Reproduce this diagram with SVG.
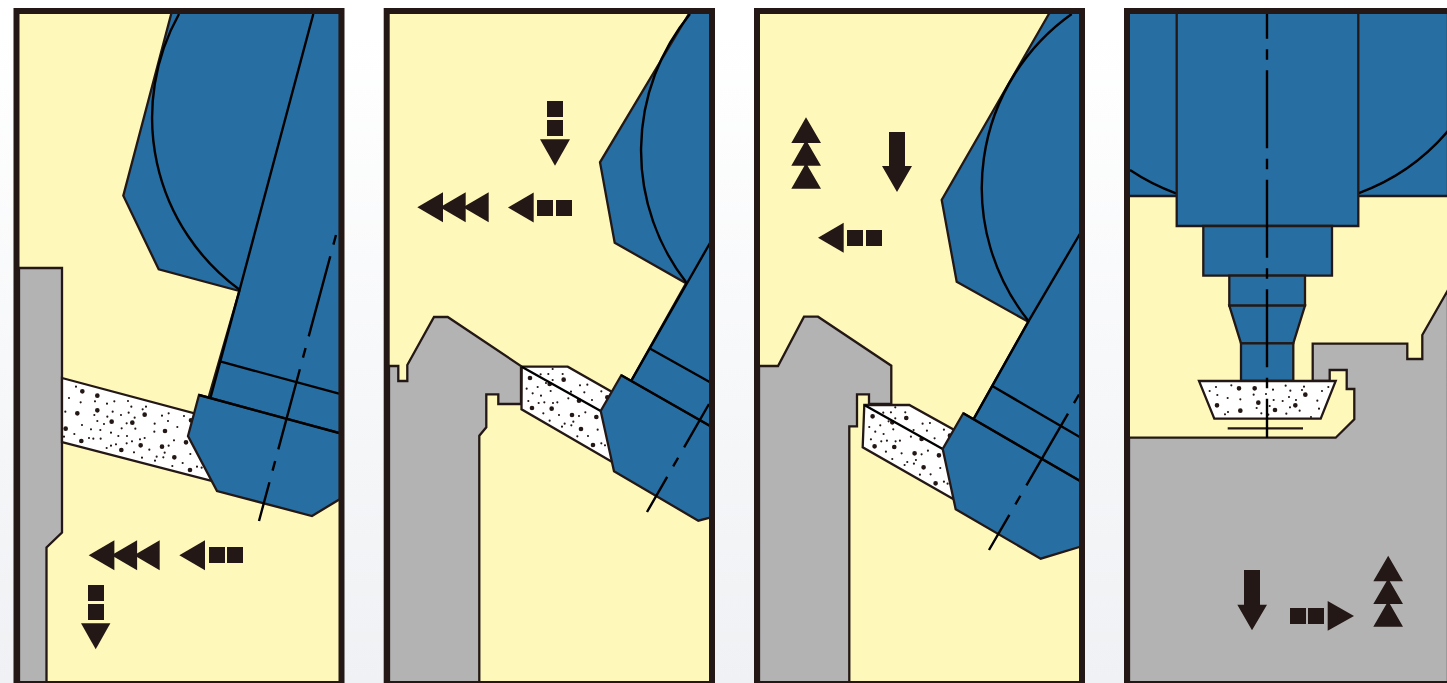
<svg xmlns="http://www.w3.org/2000/svg" width="1447" height="683" viewBox="0 0 1447 683">
<style>
.y{fill:#fff8bb}
.g{fill:#b3b3b3;stroke:#231815;stroke-width:2.3}
.b{fill:#276ea3;stroke:#231815;stroke-width:2.3}
.w{fill:#fff;stroke:#231815;stroke-width:2.3}
.l{fill:none;stroke:#000;stroke-width:2.4}
.o{fill:none;stroke:#231815;stroke-width:2.3}
.f{fill:none;stroke:#231815;stroke-width:6}
.k{fill:#231815}
.d{fill:none;stroke:#231815;stroke-linecap:round}
.big{stroke-width:14}
.sm{stroke-width:6.5}
</style>
<defs>
<linearGradient id="bg" x1="0" y1="0" x2="0" y2="1"><stop offset="0.05" stop-color="#fff"/><stop offset="1" stop-color="#eff1f4"/></linearGradient>
<path id="tri" class="k" d="M0 0L25.7-15V15Z"/>
<rect id="sq" class="k" x="0" y="0" width="16" height="16"/>
<g id="dots2" transform="translate(380 280) scale(.33333)">
<path class="d big" d="M450 294h0M509 312h0M551 299h0M597 362h0M682 352h0M456 384h0M515 386h0M576 405h0M649 411h0M603 447h0M639 495h0"/>
<path class="d sm" d="M482 283h0M518 267h0M505 282h0M548 282h0M518 300h0M600 316h0M622 314h0M573 335h0M613 337h0M664 334h0M440 326h0M473 321h0M498 309h0M458 340h0M483 347h0M512 333h0M565 355h0M636 360h0M445 363h0M476 369h0M493 367h0M519 369h0M532 367h0M490 400h0M537 405h0M597 408h0M616 397h0M509 422h0M580 425h0M554 431h0M574 436h0M546 440h0M653 449h0M592 469h0M624 468h0M664 490h0M675 496h0"/>
</g>
</defs>
<rect width="1447" height="683" fill="url(#bg)"/>

<g id="panel-1">
<rect class="y" x="16" y="11" width="325" height="672"/>
<path class="g" d="M19 268H62V532.5L46.5 547.5V684H19Z"/>
<path class="w" d="M62 378L205 416.2L225 484.4L62 442Z"/>
<g transform="translate(0 340) scale(.33333)">
<path class="d big" d="M247 154h0M292 167h0M232 220h0M292 211h0M335 245h0M397 248h0M434 224h0M197 266h0M244 303h0M364 330h0M422 316h0M486 320h0M495 273h0M523 352h0M570 390h0M558 307h0M573 241h0"/>
<path class="d sm" d="M228 140h0M207 174h0M242 187h0M285 184h0M321 191h0M343 184h0M384 183h0M394 200h0M428 208h0M438 200h0M196 215h0M338 215h0M363 225h0M386 218h0M322 230h0M283 225h0M292 243h0M312 252h0M404 233h0M380 250h0M246 255h0M273 268h0M301 270h0M223 282h0M267 294h0M280 296h0M302 296h0M365 265h0M406 266h0M333 278h0M355 288h0M381 288h0M463 275h0M464 251h0M486 227h0M506 220h0M504 243h0M532 261h0M552 228h0M522 301h0M506 317h0M434 294h0M420 298h0M396 304h0M380 310h0M348 313h0M333 317h0M320 324h0M402 337h0M426 353h0M448 329h0M470 350h0M465 362h0M490 352h0M494 338h0M517 378h0M548 369h0M571 342h0M591 380h0M605 383h0M192 290h0"/>
</g>
<path class="b" d="M171.7 12L123.3 195.7L158.7 269.3L239.3 291L205 410L340 440V12Z"/>
<path class="l" d="M179 14A213 213 0 0 0 239.3 289.5"/>
<path class="l" d="M313.3 14L239.3 291L210.7 397"/>
<path class="b" d="M199 395L188 436L217 491L312 516L340 499V433.2Z"/>
<path class="l" d="M199 395L339 433M221 361.7L339 393.6"/>
<path class="l" stroke-dasharray="10 12 83 12" d="M336 235L259 521"/>
<g id="arrows-1">
<use href="#tri" x="88.7" y="555.3"/><use href="#tri" x="111.4" y="555.3"/><use href="#tri" x="134" y="555.3"/>
<use href="#tri" x="179.3" y="555.3"/><use href="#sq" x="209" y="547"/><use href="#sq" x="227" y="547"/>
<use href="#sq" x="88" y="585"/><use href="#sq" x="88" y="604"/>
<path class="k" d="M81 623.3H110.4L95.7 649.3Z"/>
</g>
<rect class="f" x="16.5" y="11" width="325" height="673"/>
</g>

<g id="panel-2">
<rect class="y" x="387" y="11" width="325" height="672"/>
<path class="g" d="M389 366H398.3V381H407.3V365L434 317H447.7L521 366V404H498.3V394.3H486.3V427.3L479.3 435.7V684H389Z"/>
<path class="w" d="M521.7 366.7H567.7L620 396.4V466.5L521.5 409.3Z"/>
<use href="#dots2"/>
<path class="b" d="M690 12L600 162.3L614.7 242.7L686 283.3L631.7 380L650 440L711 480V12Z"/>
<path class="l" d="M690 14A215 215 0 0 0 686.7 283"/>
<path class="l" d="M710 243L686 285L631.7 380"/>
<path class="l" d="M521.7 366.7L600.7 411"/>
<path class="b" d="M621.3 375.3L600.7 411L614 471.3L698.3 520.7L711 517.3V426.5Z"/>
<path class="l" d="M621.3 375.3L711 426.5M650.3 348.7L711 382.8"/>
<path class="l" stroke-dasharray="83 12 10 12" stroke-dashoffset="33" d="M709 404L647 512"/>
<g id="arrows-2">
<use href="#sq" x="547" y="101"/><use href="#sq" x="547" y="120"/>
<path class="k" d="M540 139.3H570L555 165.7Z"/>
<use href="#tri" x="417.3" y="207.3"/><use href="#tri" x="440" y="207.3"/><use href="#tri" x="463" y="207.3"/>
<use href="#tri" x="508" y="207.5"/><use href="#sq" x="537" y="200"/><use href="#sq" x="556" y="200"/>
</g>
<rect class="f" x="386.7" y="11" width="325.3" height="673"/>
</g>

<g id="panel-3">
<rect class="y" x="757" y="11" width="325" height="672"/>
<path class="g" d="M759 366H778L804 316.7H818L891.3 365.7V404H869V394.3H857V426.3H849.3V684H759Z"/>
<path class="w" d="M864.3 405H909.3L962 434.3V503.9L862.7 447.3Z"/>
<use href="#dots2" transform="translate(342.6 38.3)"/>
<path class="b" d="M1050 12L941.7 200L956.7 281.7L1028.3 321.7L974 418.3L990 470L1083 530V12Z"/>
<path class="l" d="M1071.7 14A213 213 0 0 0 1028.3 320.7"/>
<path class="l" d="M1081 232L1028.3 321.7L974 418.3"/>
<path class="l" d="M864.3 405L942.7 449"/>
<path class="b" d="M963.3 413.3L942.7 449L955.7 509.3L1040.7 558.7L1081 546.5V481.5Z"/>
<path class="l" d="M963.3 413.3L1081 481.5M992.3 386L1081 437.8"/>
<path class="l" stroke-dasharray="10 12 83 12" d="M1079 394.5L989 550"/>
<g id="arrows-3">
<path class="k" d="M806 117.3L821 143H791.3ZM806 140L821 165.7H791.3ZM806 163L821 188.7H791.3Z"/>
<path class="k" d="M889 132H905V166H912L897 192L882 166H889Z"/>
<use href="#tri" x="818" y="237.7"/><use href="#sq" x="847" y="230"/><use href="#sq" x="866" y="230"/>
</g>
<rect class="f" x="757" y="11" width="325" height="673"/>
</g>

<g id="panel-4">
<rect class="y" x="1127" y="11" width="320" height="672"/>
<path class="b" d="M1127 11H1448V196H1127Z"/>
<path class="g" d="M1448 290L1422.3 335V359H1407.3V343.7H1312.7V381H1329.7V370H1346.7V389H1354.3V419.3L1335.7 437.7H1129V684H1448Z"/>
<path class="l" d="M1130 170A213 213 0 0 0 1176 193.3M1358.3 193.3A213 213 0 0 0 1448 131"/>
<path class="b" d="M1176.7 12H1358.3V226H1176.7Z"/>
<path class="b" d="M1203.3 226H1332V275.7H1203.3Z"/>
<path class="b" d="M1229.3 275.7H1305V305.7H1229.3Z"/>
<path class="b" d="M1229.3 305.7H1305L1293.3 343.3H1241Z"/>
<path class="b" d="M1241 343.3H1293.3V381H1241Z"/>
<path class="w" d="M1199 381H1335.7L1320.7 418.7H1214.3Z"/>
<g transform="translate(1120 180) scale(.33333)">
<path class="d big" d="M357 625h0M404 625h0M556 644h0M415 668h0M291 676h0M361 692h0M465 690h0M526 676h0"/>
<path class="d sm" d="M334 616h0M288 621h0M269 633h0M292 645h0M323 654h0M361 658h0M401 644h0M438 642h0M459 629h0M497 617h0M511 632h0M552 620h0M546 630h0M606 633h0M625 621h0M507 651h0M528 660h0M488 663h0M461 660h0M449 678h0M410 684h0M510 682h0M539 692h0M592 662h0M597 686h0M499 701h0M445 704h0M424 700h0M324 696h0M315 703h0M573 711h0"/>
</g>
<path class="o" d="M1227.7 428.3H1303"/>
<path class="l" stroke-dasharray="78 10.5 10.5 10.5" stroke-dashoffset="53.3" d="M1267 14V437.7"/>
<g id="arrows-4">
<path class="k" d="M1244 570H1260V604.7H1267L1252 630.3L1237.3 604.7H1244Z"/>
<use href="#sq" x="1290" y="608"/><use href="#sq" x="1308" y="608"/>
<path class="k" d="M1327.7 601L1354 616L1327.7 630.7Z"/>
<path class="k" d="M1388.2 555.7L1403 581.3H1373.3ZM1388.2 578.5L1403 604H1373.3ZM1388.2 601L1403 626.7H1373.3Z"/>
</g>
<rect class="f" x="1127" y="11" width="330" height="673"/>
</g>
</svg>
